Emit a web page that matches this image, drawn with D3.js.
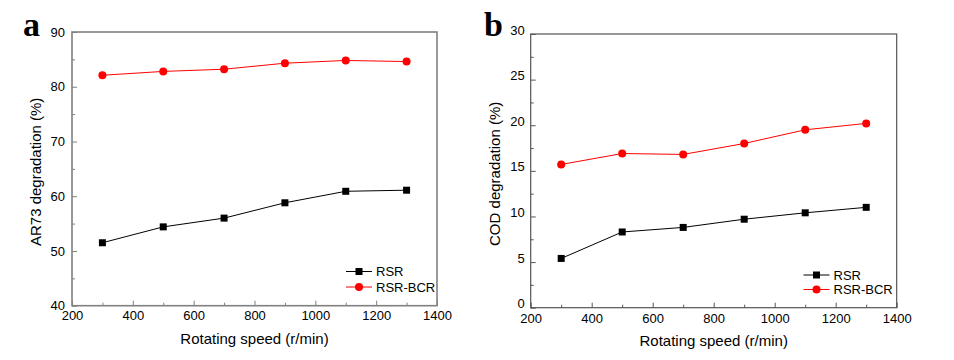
<!DOCTYPE html>
<html><head><meta charset="utf-8">
<script src="https://cdn.jsdelivr.net/npm/d3@7"></script>
<style>body{margin:0;background:#fff}svg{display:block}</style>
</head><body><svg id="c" width="954" height="360"></svg>
<script>
const speeds = [300, 500, 700, 900, 1100, 1300];
const ar73RSR = [51.5, 54.4, 56.0, 58.8, 60.9, 61.1];
const ar73BCR = [82.1, 82.8, 83.2, 84.3, 84.8, 84.6];
const codRSR = [5.4, 8.3, 8.8, 9.7, 10.4, 11.0];
const codBCR = [15.7, 16.9, 16.8, 18.0, 19.5, 20.2];
const xTicks = [200, 400, 600, 800, 1000, 1200, 1400];
const xMinor = [300, 500, 700, 900, 1100, 1300];
const ar73Ticks = [40, 50, 60, 70, 80, 90];
const ar73Minor = [45, 55, 65, 75, 85];
const codTicks = [0, 5, 10, 15, 20, 25, 30];
const codMinor = [2.5, 7.5, 12.5, 17.5, 22.5, 27.5];
const seriesNames = ["RSR", "RSR-BCR"];
const seriesColors = ["#000000", "#ff0000"];

const svg = d3.select("#c");
const font = "Liberation Sans, Arial, sans-serif";

function panel(o) {
  const g = svg.append("g");
  const x = d3.scaleLinear().domain([200, 1400]).range([o.x0, o.x1]);
  const y = d3.scaleLinear().domain(o.yDomain).range([o.y1, o.y0]);
  // frame
  g.append("rect").attr("x", o.x0).attr("y", o.y0).attr("width", o.x1 - o.x0).attr("height", o.y1 - o.y0)
    .attr("fill", "none").attr("stroke", o.frame).attr("stroke-width", o.fw);
  const styleAxis = (sel, fs) => {
    sel.select(".domain").remove();
    sel.selectAll("line").attr("stroke", o.frame).attr("stroke-width", 1);
    sel.selectAll("text").attr("font-family", font).attr("font-size", fs).attr("fill", "#000");
  };
  // x axis
  g.append("g").attr("transform", `translate(0,${o.y1})`)
    .call(d3.axisBottom(x).tickValues(xTicks).tickSize(-5).tickPadding(o.xPad).tickFormat(d3.format("d")))
    .call(s => styleAxis(s, 13));
  g.append("g").attr("transform", `translate(0,${o.y1})`)
    .call(d3.axisBottom(x).tickValues(xMinor).tickSize(-3).tickFormat(""))
    .call(s => styleAxis(s, 13));
  // y axis
  const ya = g.append("g").attr("transform", `translate(${o.x0},0)`)
    .call(d3.axisLeft(y).tickValues(o.yTicks).tickSize(-5).tickPadding(o.yPad).tickFormat(d3.format("d")))
    .call(s => styleAxis(s, 13));
  ya.selectAll("text").attr("dy", o.yDy);
  g.append("g").attr("transform", `translate(${o.x0},0)`)
    .call(d3.axisLeft(y).tickValues(o.yMinor).tickSize(-3).tickFormat(""))
    .call(s => styleAxis(s, 13));
  // titles
  g.append("text").attr("x", (o.x0 + o.x1) / 2).attr("y", o.xTitleY).attr("text-anchor", "middle")
    .attr("font-family", font).attr("font-size", 15).text("Rotating speed (r/min)");
  g.append("text").attr("transform", `translate(${o.yTitleX},${(o.y0 + o.y1) / 2 + 3}) rotate(-90)`)
    .attr("text-anchor", "middle").attr("font-family", font).attr("font-size", 15).text(o.yTitle);
  g.append("text").attr("x", o.lx).attr("y", o.ly).attr("font-family", "Liberation Serif, Times New Roman, serif")
    .attr("font-weight", "bold").attr("font-size", 34).text(o.letter);
  // series
  const line = d3.line().x((d, i) => x(speeds[i])).y(d => y(d));
  o.series.forEach((vals, k) => {
    const c = seriesColors[k];
    g.append("path").datum(vals).attr("d", line).attr("fill", "none").attr("stroke", c).attr("stroke-width", 1);
    if (k === 0) {
      g.selectAll(null).data(vals).enter().append("rect")
        .attr("x", (d, i) => x(speeds[i]) - 3.5).attr("y", d => y(d) - 3.5)
        .attr("width", 7).attr("height", 7).attr("fill", c);
    } else {
      g.selectAll(null).data(vals).enter().append("circle")
        .attr("cx", (d, i) => x(speeds[i])).attr("cy", d => y(d)).attr("r", 4).attr("fill", c);
    }
  });
  // legend
  seriesNames.forEach((n, k) => {
    const yy = o.legY + k * o.legStep;
    const c = seriesColors[k];
    g.append("line").attr("x1", o.legX).attr("x2", o.legX + 26).attr("y1", yy).attr("y2", yy)
      .attr("stroke", c).attr("stroke-width", 1);
    if (k === 0) g.append("rect").attr("x", o.legX + 13 - 3.5).attr("y", yy - 3.5).attr("width", 7).attr("height", 7).attr("fill", c);
    else g.append("circle").attr("cx", o.legX + 13).attr("cy", yy).attr("r", 4).attr("fill", c);
    g.append("text").attr("x", o.legX + 30).attr("y", yy + 4.5).attr("font-family", font).attr("font-size", 13).text(n);
  });
}

panel({x0: 72, x1: 437, y0: 32, y1: 305.7, yDomain: [40, 90], yTicks: ar73Ticks, yMinor: ar73Minor,
  frame: "#808080", fw: 1.6, xPad: 5, yPad: 7, yDy: "0.32em", xTitleY: 344, yTitleX: 41,
  yTitle: "AR73 degradation (%)", letter: "a", lx: 23, ly: 36, series: [ar73RSR, ar73BCR],
  legX: 346, legY: 271.5, legStep: 15.5});
panel({x0: 530.7, x1: 896.7, y0: 34, y1: 307.7, yDomain: [0, 30], yTicks: codTicks, yMinor: codMinor,
  frame: "#555555", fw: 1.2, xPad: 6, yPad: 6, yDy: "0.0em", xTitleY: 346, yTitleX: 500,
  yTitle: "COD degradation (%)", letter: "b", lx: 484, ly: 36, series: [codRSR, codBCR],
  legX: 803.5, legY: 275, legStep: 14.5});
</script></body></html>
